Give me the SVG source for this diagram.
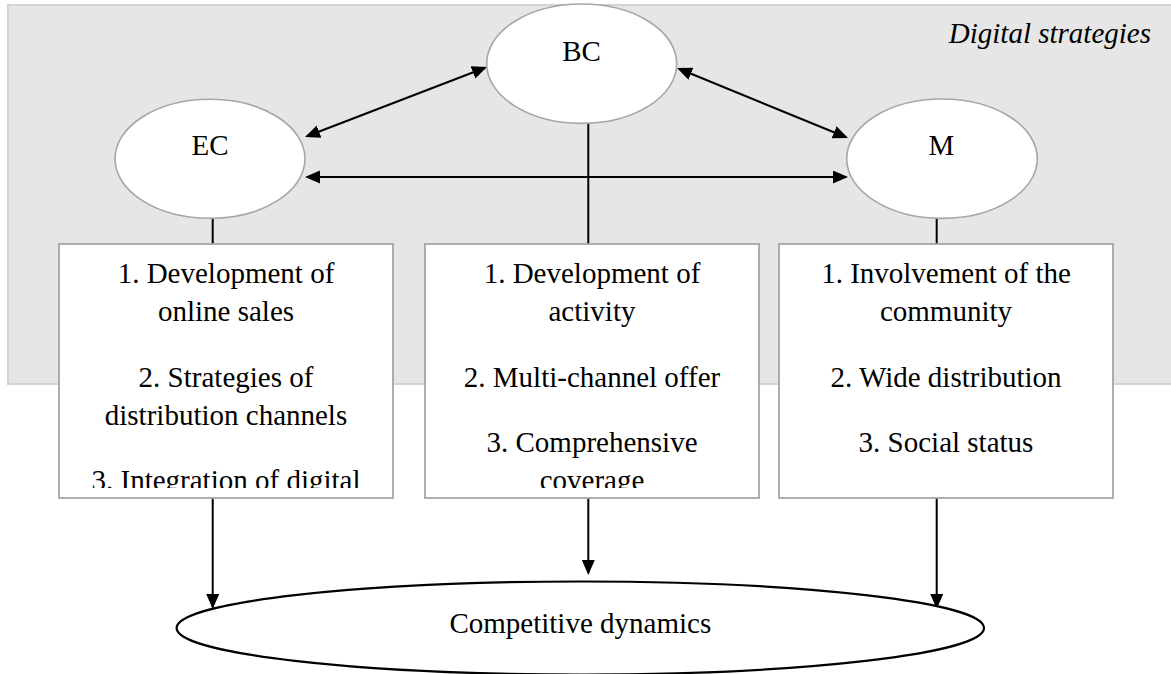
<svg xmlns="http://www.w3.org/2000/svg" width="1171" height="674" viewBox="0 0 1171 674">
  <style>
    .t { font-family: "Liberation Serif", "Times New Roman", serif; font-size: 29px; fill: #000; text-anchor: middle; }
    .oval { fill: #ffffff; stroke: #a6a6a6; stroke-width: 1.6; }
    .box { fill: #ffffff; stroke: #a6a6a6; stroke-width: 1.8; }
    .ln { stroke: #000; stroke-width: 2; fill: none; }
  </style>
  <defs>
    <marker id="ah" markerUnits="userSpaceOnUse" markerWidth="16" markerHeight="14" refX="13" refY="6.5" orient="auto-start-reverse">
      <path d="M0,0 L15,6.5 L0,13 z" fill="#000"/>
    </marker>
    <clipPath id="clipL"><rect x="59" y="245" width="334" height="243"/></clipPath>
    <clipPath id="clipM"><rect x="425" y="245" width="334" height="243"/></clipPath>
    <clipPath id="clipR"><rect x="779" y="245" width="334" height="243"/></clipPath>
  </defs>

  <g id="background">
    <rect x="8" y="5" width="1175" height="379" fill="#e6e6e6" stroke="#d3d3d3" stroke-width="2"/>
    <text x="1151" y="43" class="t" style="text-anchor:end;font-style:italic">Digital strategies</text>
  </g>

  <g id="connectors">
    <line class="ln" x1="306.9" y1="136.3" x2="485.1" y2="67.7" marker-start="url(#ah)" marker-end="url(#ah)"/>
    <line class="ln" x1="678.9" y1="68.8" x2="846.1" y2="137.2" marker-start="url(#ah)" marker-end="url(#ah)"/>
    <line class="ln" x1="307" y1="177" x2="846" y2="177" marker-start="url(#ah)" marker-end="url(#ah)"/>
    <line class="ln" x1="212.7" y1="218" x2="212.7" y2="244"/>
    <line class="ln" x1="588.3" y1="123" x2="588.3" y2="244"/>
    <line class="ln" x1="936.7" y1="218" x2="936.7" y2="244"/>
    <line class="ln" x1="212.7" y1="498" x2="212.7" y2="607" marker-end="url(#ah)"/>
    <line class="ln" x1="588.3" y1="498" x2="588.3" y2="573" marker-end="url(#ah)"/>
    <line class="ln" x1="936.7" y1="498" x2="936.7" y2="607" marker-end="url(#ah)"/>
  </g>

  <g id="node-bc">
    <ellipse class="oval" cx="581.7" cy="63.7" rx="95" ry="59.7"/>
    <text class="t" x="581.5" y="61">BC</text>
  </g>
  <g id="node-ec">
    <ellipse class="oval" cx="210" cy="158.8" rx="95" ry="59.5"/>
    <text class="t" x="210" y="155">EC</text>
  </g>
  <g id="node-m">
    <ellipse class="oval" cx="942" cy="158.7" rx="95.3" ry="59.7"/>
    <text class="t" x="941.5" y="154.5">M</text>
  </g>

  <g id="box-ec">
    <rect class="box" x="59" y="244" width="334" height="254"/>
    <g clip-path="url(#clipL)">
      <text class="t" x="226" y="283">1. Development of</text>
      <text class="t" x="226" y="321">online sales</text>
      <text class="t" x="226" y="386.5">2. Strategies of</text>
      <text class="t" x="226" y="425">distribution channels</text>
      <text class="t" x="226" y="490">3. Integration of digital</text>
    </g>
  </g>
  <g id="box-bc">
    <rect class="box" x="425" y="244" width="334" height="254"/>
    <g clip-path="url(#clipM)">
      <text class="t" x="592" y="283">1. Development of</text>
      <text class="t" x="592" y="321">activity</text>
      <text class="t" x="592" y="386.5">2. Multi-channel offer</text>
      <text class="t" x="592" y="452">3. Comprehensive</text>
      <text class="t" x="592" y="490">coverage</text>
    </g>
  </g>
  <g id="box-m">
    <rect class="box" x="779" y="244" width="334" height="254"/>
    <g clip-path="url(#clipR)">
      <text class="t" x="946" y="283">1. Involvement of the</text>
      <text class="t" x="946" y="321">community</text>
      <text class="t" x="946" y="386.5">2. Wide distribution</text>
      <text class="t" x="946" y="452">3. Social status</text>
    </g>
  </g>

  <g id="node-competitive">
    <ellipse cx="580.3" cy="628" rx="403.7" ry="46.5" fill="#ffffff" stroke="#000" stroke-width="2.2"/>
    <text class="t" x="580.3" y="633">Competitive dynamics</text>
  </g>
</svg>
